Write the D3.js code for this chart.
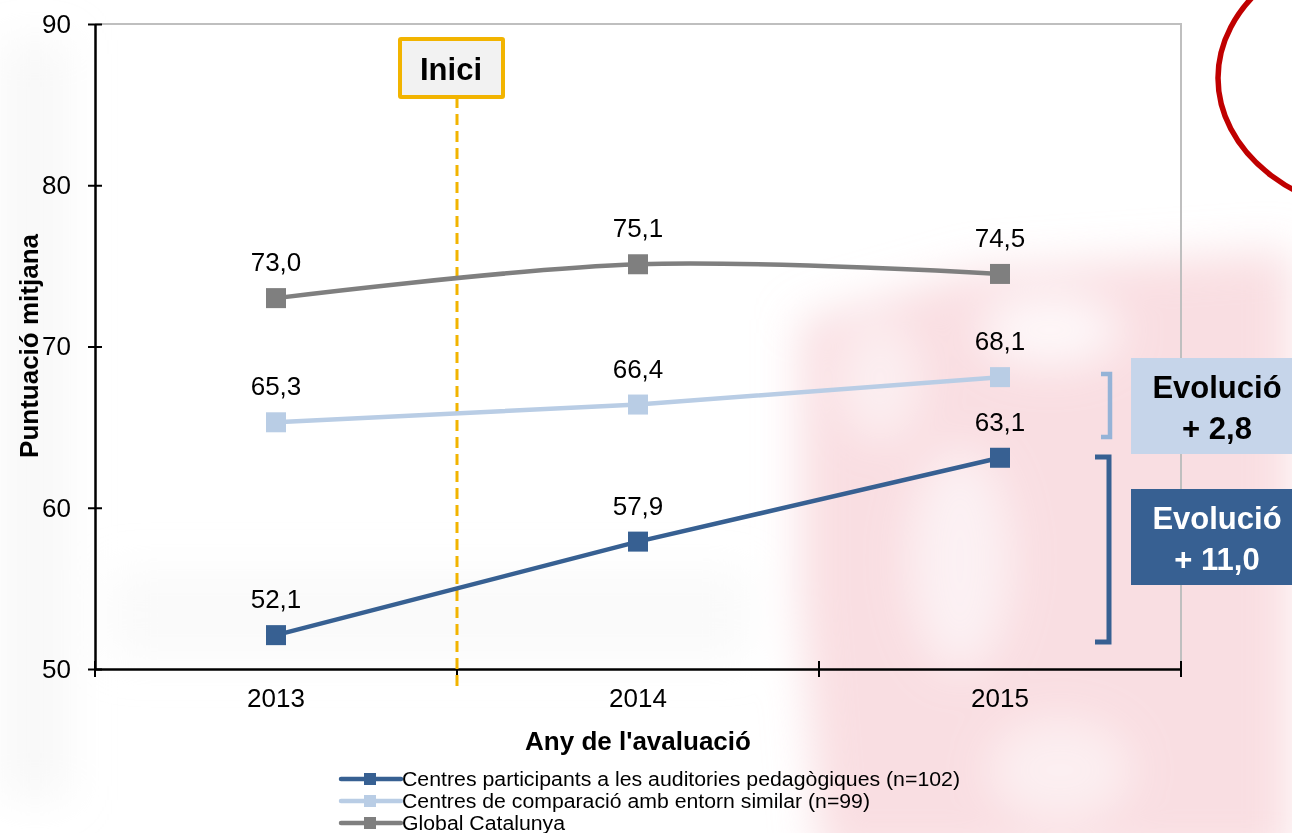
<!DOCTYPE html>
<html><head><meta charset="utf-8">
<script src="https://cdn.jsdelivr.net/npm/d3@7/dist/d3.min.js"></script>
<style>body{margin:0;background:#fff}svg{display:block;font-family:"Liberation Sans",Arial,sans-serif}</style>
</head><body><svg id="c" width="1292" height="833"></svg>
<script>
const years = ["2013","2014","2015"];
const seriesNames = ["Centres participants a les auditories pedagògiques (n=102)","Centres de comparació amb entorn similar (n=99)","Global Catalunya"];
const participants = [52.1, 57.9, 63.1];
const comparacio = [65.3, 66.4, 68.1];
const global = [73.0, 75.1, 74.5];
const yTicks = [50, 60, 70, 80, 90];
const evolLight = "+ 2,8";
const evolDark = "+ 11,0";

const colors = ["#376092", "#B9CDE5", "#7F7F7F"];
const series = [
  {name: seriesNames[0], values: participants, color: colors[0], curve: d3.curveLinear},
  {name: seriesNames[1], values: comparacio, color: colors[1], curve: d3.curveLinear},
  {name: seriesNames[2], values: global, color: colors[2], curve: d3.curveCatmullRom}
];

const svg = d3.select("#c");
const L = 95, R = 1181, T = 24, B = 669;
const x = d3.scaleBand().domain(years).range([L, R]);
const y = d3.scaleLinear().domain([50, 90]).range([B, T]);
const cx = d => x(d) + x.bandwidth() / 2;
const FONT = "Liberation Sans, Arial, sans-serif";

// watermark (faint background)
const defs = svg.append("defs");
defs.append("filter").attr("id","blur").attr("x","-30%").attr("y","-30%").attr("width","160%").attr("height","160%")
  .append("feGaussianBlur").attr("stdDeviation", 22);
const wm = svg.append("g").attr("filter","url(#blur)");
wm.append("path").attr("d","M800,320 L980,270 L1292,250 L1292,860 L820,860 L800,600 Z").attr("fill","#F6D0D6").attr("opacity",0.7);
wm.append("ellipse").attr("cx",1050).attr("cy",330).attr("rx",70).attr("ry",35).attr("fill","#fff").attr("opacity",0.8);
wm.append("ellipse").attr("cx",960).attr("cy",560).attr("rx",50).attr("ry",110).attr("fill","#fff").attr("opacity",0.6);
wm.append("ellipse").attr("cx",1060).attr("cy",770).attr("rx",70).attr("ry",50).attr("fill","#fff").attr("opacity",0.5);
wm.append("ellipse").attr("cx",880).attr("cy",380).attr("rx",40).attr("ry",60).attr("fill","#fff").attr("opacity",0.5);
wm.append("rect").attr("x",0).attr("y",40).attr("width",70).attr("height",760).attr("fill","#ECECEC").attr("opacity",0.35);
wm.append("rect").attr("x",110).attr("y",570).attr("width",640).attr("height",90).attr("fill","#EEEEEE").attr("opacity",0.3);

// plot border (top/right)
svg.append("path").attr("d",`M${L},${T}H${R}V${B}`).attr("fill","none").attr("stroke","#BFBFBF").attr("stroke-width",2);

// Y axis
const yAxis = svg.append("g").attr("transform",`translate(${L},0)`)
  .call(d3.axisLeft(y).tickValues(yTicks).tickSize(7).tickPadding(17).tickSizeOuter(0));
yAxis.select(".domain").attr("stroke","#000").attr("stroke-width",2.5);
yAxis.selectAll(".tick line").attr("x1",7).attr("x2",-7).attr("stroke","#000").attr("stroke-width",2);
yAxis.selectAll(".tick text").attr("font-size",26).attr("fill","#000").attr("font-family",FONT);

// X axis
const xAxis = svg.append("g").attr("transform",`translate(0,${B})`)
  .call(d3.axisBottom(x).tickSize(0).tickPadding(20).tickSizeOuter(0));
xAxis.select(".domain").attr("stroke","#000").attr("stroke-width",2.5);
xAxis.selectAll(".tick text").attr("font-size",26).attr("fill","#000").attr("font-family",FONT);
const bounds = years.map(d => x(d)).concat([R]);
svg.append("g").selectAll("line").data(bounds).join("line")
  .attr("x1",d=>d).attr("x2",d=>d).attr("y1",B-8).attr("y2",B+8).attr("stroke","#000").attr("stroke-width",2);

// axis titles
svg.append("text").attr("x", (L+R)/2).attr("y", 750).attr("text-anchor","middle")
  .attr("font-size",26).attr("font-weight","bold").text("Any de l'avaluació");
svg.append("text").attr("transform","translate(38,346) rotate(-90)").attr("text-anchor","middle")
  .attr("font-size",26).attr("font-weight","bold").text("Puntuació mitjana");

// Inici line + box
const iniciX = x("2014");
svg.append("line").attr("x1",iniciX).attr("x2",iniciX).attr("y1",97).attr("y2",686)
  .attr("stroke","#F2B400").attr("stroke-width",3).attr("stroke-dasharray","11,6");
svg.append("rect").attr("x",400).attr("y",39).attr("width",103).attr("height",58)
  .attr("fill","#F2F2F2").attr("stroke","#F2B400").attr("stroke-width",4).attr("rx",1);
svg.append("text").attr("x",451).attr("y",80).attr("text-anchor","middle")
  .attr("font-size",31).attr("font-weight","bold").text("Inici");

// series
const line = s => d3.line().x((v,i)=>cx(years[i])).y(v=>y(v)).curve(s.curve)(s.values);
const order = [series[2], series[1], series[0]];
order.forEach(s => {
  const g = svg.append("g");
  g.append("path").attr("d", line(s)).attr("fill","none").attr("stroke",s.color).attr("stroke-width",4.5).attr("stroke-linejoin","round");
  g.selectAll("rect").data(s.values).join("rect")
    .attr("x",(v,i)=>cx(years[i])-10).attr("y",v=>y(v)-10).attr("width",20).attr("height",20).attr("fill",s.color);
  g.selectAll("text").data(s.values).join("text")
    .attr("x",(v,i)=>cx(years[i])).attr("y",v=>y(v)-27).attr("text-anchor","middle")
    .attr("font-size",26).attr("fill","#000").text(v=>v.toFixed(1).replace(".",","));
});

// brackets
svg.append("path").attr("d","M1101,374H1110V437H1101").attr("fill","none").attr("stroke","#95B3D7").attr("stroke-width",4.5);
svg.append("path").attr("d","M1095,457H1109V642H1095").attr("fill","none").attr("stroke","#376092").attr("stroke-width",5);

// evolution boxes
svg.append("rect").attr("x",1131).attr("y",358).attr("width",170).attr("height",96).attr("fill","#C6D5EA");
svg.append("text").attr("x",1217).attr("y",398).attr("text-anchor","middle").attr("font-size",31).attr("font-weight","bold").attr("fill","#000").text("Evolució");
svg.append("text").attr("x",1217).attr("y",439).attr("text-anchor","middle").attr("font-size",31).attr("font-weight","bold").attr("fill","#000").text(evolLight);
svg.append("rect").attr("x",1131).attr("y",489).attr("width",170).attr("height",96).attr("fill","#376092");
svg.append("text").attr("x",1217).attr("y",529).attr("text-anchor","middle").attr("font-size",31).attr("font-weight","bold").attr("fill","#fff").text("Evolució");
svg.append("text").attr("x",1217).attr("y",570).attr("text-anchor","middle").attr("font-size",31).attr("font-weight","bold").attr("fill","#fff").text(evolDark);

// red circle (top right, cropped)
svg.append("ellipse").attr("cx",1400).attr("cy",78).attr("rx",182).attr("ry",138)
  .attr("fill","none").attr("stroke","#C00000").attr("stroke-width",5.5);

// legend
const legLens = [558, 468, 163];
const lg = svg.append("g");
series.forEach((s,i) => {
  const yy = 779 + i*22;
  lg.append("line").attr("x1",341).attr("x2",401).attr("y1",yy).attr("y2",yy).attr("stroke",s.color).attr("stroke-width",4.5).attr("stroke-linecap","round");
  lg.append("rect").attr("x",364).attr("y",yy-6).attr("width",12).attr("height",12).attr("fill",s.color);
  lg.append("text").attr("x",402).attr("y",yy+7).attr("font-size",20).attr("fill","#000")
    .attr("textLength",legLens[i]).attr("lengthAdjust","spacingAndGlyphs").text(s.name);
});
</script></body></html>
